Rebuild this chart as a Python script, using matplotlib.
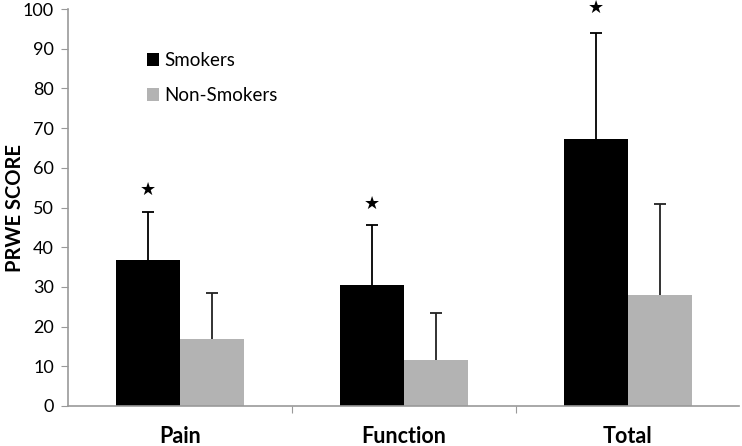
import matplotlib
matplotlib.use("Agg")
import matplotlib.pyplot as plt
import numpy as np

categories = ["Pain", "Function", "Total"]
smokers = [36.8, 30.4, 67.2]
smokers_err = [12.0, 15.1, 26.7]
non_smokers = [17.0, 11.5, 28.0]
non_smokers_err = [11.5, 11.9, 23.0]
star_y = [54.4, 51.0, 100.2]
yticks = list(range(0, 101, 10))

plt.rcParams['font.family'] = ['Lato', 'DejaVu Sans']

fig = plt.figure(figsize=(7.42, 4.46), dpi=100)
ax = fig.add_axes([0.0916, 0.0897, 0.905, 0.89])

x = np.arange(len(categories))
w = 0.286
ax.bar(x - w/2, smokers, w, color='black', label='Smokers', zorder=2)
ax.bar(x + w/2, non_smokers, w, color='#b3b3b3', label='Non-Smokers', zorder=2)

cap = 0.027
for xs, vals, errs, col in [(x - w/2, smokers, smokers_err, 'black'),
                            (x + w/2, non_smokers, non_smokers_err, '#222222')]:
    tops = np.array(vals) + np.array(errs)
    ax.vlines(xs, vals, tops, color=col, linewidth=1.3, zorder=3)
    ax.hlines(tops, xs - cap, xs + cap, color=col, linewidth=1.3, zorder=3)

for xi, sy in zip(x - w/2, star_y):
    ax.text(xi, sy, "★", ha='center', va='center', fontsize=13,
            family=['DejaVu Sans'], color='black')

ax.set_xlim(-0.5, 2.5)
ax.set_ylim(0, 100)
ax.set_yticks(yticks)
ax.set_yticklabels([str(v) for v in yticks], fontsize=13)
ax.set_xticks([0.5, 1.5])
ax.set_xticklabels([])
ax.tick_params(axis='x', length=5, color='#999999', direction='out')
ax.tick_params(axis='y', length=5, color='#999999', direction='out', pad=5)
for i, c in enumerate(categories):
    ax.text(i, -9.2, c, ha='center', va='baseline', fontsize=15.5, fontweight='bold')
ax.set_ylabel("PRWE SCORE", fontsize=14.5, fontweight='bold')
ax.yaxis.set_label_coords(-0.064, 0.5)

for s in ['top', 'right']:
    ax.spines[s].set_visible(False)
for s in ['left', 'bottom']:
    ax.spines[s].set_color('#999999')
    ax.spines[s].set_linewidth(1.2)

leg = ax.legend(loc='upper left', bbox_to_anchor=(0.093, 0.935), frameon=False,
                fontsize=13.5, handlelength=0.6, handleheight=0.7, handletextpad=0.3,
                labelspacing=1.0)

fig.savefig("out.png", dpi=100)
